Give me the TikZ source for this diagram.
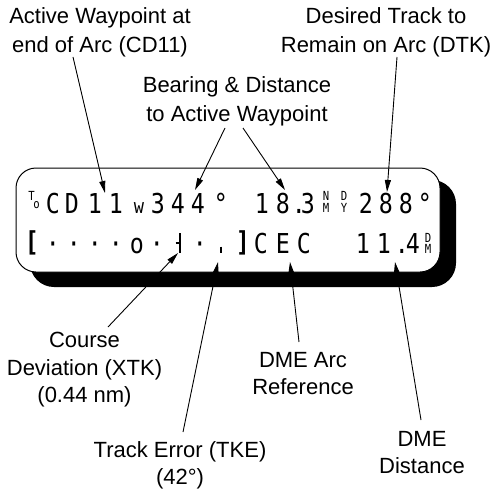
\documentclass[tikz,border=0pt]{standalone}
\usepackage{fontspec}
\setmainfont{Liberation Sans}
\newfontfamily\lcdfont[FakeStretch=0.85]{DejaVu Sans Mono}
\usetikzlibrary{arrows.meta}
\begin{document}
\begin{tikzpicture}[x=1pt,y=-1pt,
  lbltop/.style={align=center, anchor=north, inner sep=0pt, font=\fontsize{22}{29}\selectfont},
  lblbot/.style={align=center, anchor=north, inner sep=0pt, font=\fontsize{22}{27.5}\selectfont},
  lcd/.style={anchor=base, inner sep=0pt, font=\lcdfont\fontsize{27.4}{30}\selectfont},
  lcdw/.style={anchor=base, inner sep=0pt, font=\lcdfont\fontsize{20}{20}\selectfont},
  lcdbr/.style={anchor=base, inner sep=0pt, font=\lcdfont\bfseries\fontsize{27.4}{30}\selectfont},
  lcdsmall/.style={anchor=base, inner sep=0pt, font=\lcdfont\fontsize{12.5}{12}\selectfont},
  ptr/.style={line width=0.9pt, -{Triangle[length=12pt,width=6pt]}},
  mark1/.style={line width=1.5pt},
]
\useasboundingbox (0,0) rectangle (494,492);
% display
\fill[rounded corners=24pt] (30,180) rectangle (456,287);
\draw[fill=white, line width=1pt, rounded corners=20pt] (16,168) rectangle (440,272);
% row 1
\node[lcdsmall] (r1T) at (31.5,200.5) {T};
\node[lcdsmall] (r1o) at (36.5,208) {o};
\node[lcd] (r1a) at (53,213) {C};
\node[lcd] (r1b) at (72,213) {D};
\node[lcd] (r1c) at (95,213) {1};
\node[lcd] (r1d) at (116,213) {1};
\node[lcdw] (r1e) at (139,213) {w};
\node[lcd] (r1f) at (158,213) {3};
\node[lcd] (r1g) at (178,213) {4};
\node[lcd] (r1h) at (198,213) {4};
\node[lcd] (r1i) at (221,213) {°};
\node[lcd] (r1j) at (262,213) {1};
\node[lcd] (r1k) at (283,213) {8};
\node[lcd] (r1l) at (299,213) {.};
\node[lcd] (r1m) at (308,213) {3};
\node[lcdsmall] (r1n1) at (326,200.5) {N};
\node[lcdsmall] (r1n2) at (326,212.5) {M};
\node[lcdsmall] (r1o1) at (344,200.5) {D};
\node[lcdsmall] (r1o2) at (344,212.5) {Y};
\node[lcd] (r1p) at (366,213) {2};
\node[lcd] (r1q) at (386,213) {8};
\node[lcd] (r1r) at (406,213) {8};
\node[lcd] (r1s) at (425,213) {°};
% row 2
\node[lcdbr] (r2a) at (32,251) {[};
\node[lcd] (r2b) at (53,253) {·};
\node[lcd] (r2c) at (74,253) {·};
\node[lcd] (r2d) at (95,253) {·};
\node[lcd] (r2e) at (116,253) {·};
\node[lcd] (r2f) at (137,253) {o};
\node[lcd] (r2g) at (157,253) {·};
\draw[mark1] (180,233) -- (180,253);
\draw[line width=1.2pt] (175.5,243) -- (180,243);
\node[lcd] (r2h) at (200,253) {·};
\draw[line width=1.3pt] (221,246.5) -- (221,253);
\node[lcdbr] (r2i) at (243,251) {]};
\node[lcd] (r2j) at (261,253) {C};
\node[lcd] (r2k) at (283,253) {E};
\node[lcd] (r2l) at (304,253) {C};
\node[lcd] (r2m) at (363,253) {1};
\node[lcd] (r2n) at (384,253) {1};
\node[lcd] (r2o) at (402,253) {.};
\node[lcd] (r2p) at (413,253) {4};
\node[lcdsmall] (r2q1) at (428,242) {D};
\node[lcdsmall] (r2q2) at (428,253) {M};
% labels
\node[lbltop] (lAct) at (100,7.2) {Active Waypoint at\\end of Arc (CD11)};
\node[lbltop] (lDtk) at (386,7.2) {Desired Track to\\Remain on Arc (DTK)};
\node[lbltop] (lBrg) at (237,76) {Bearing \& Distance\\to Active Waypoint};
\node[lblbot] (lXtk) at (84.5,332) {Course\\Deviation (XTK)\\(0.44 nm)};
\node[lblbot] (lTke) at (180,441) {Track Error (TKE)\\(42°)};
\node[lblbot] (lArc) at (303,352) {DME Arc\\Reference};
\node[lblbot] (lDme) at (422,431) {DME\\Distance};
% connector ends
\coordinate (sAct) at (73,57);   \coordinate (tAct) at (105,193);
\coordinate (sBrgL) at (225,128); \coordinate (tBrgL) at (195,190);
\coordinate (sBrgR) at (243,128); \coordinate (tBrgR) at (285,190);
\coordinate (sDtk) at (397,57);  \coordinate (tDtk) at (387,192);
\coordinate (sXtk) at (108,327); \coordinate (tXtk) at (178,253);
\coordinate (sTke) at (183,432); \coordinate (tTke) at (218,262);
\coordinate (sArc) at (299,342); \coordinate (tArc) at (290,262);
\coordinate (sDme) at (421,420); \coordinate (tDme) at (395,262);
\draw[ptr] (sAct) -- (tAct);
\draw[ptr] (sBrgL) -- (tBrgL);
\draw[ptr] (sBrgR) -- (tBrgR);
\draw[ptr] (sDtk) -- (tDtk);
\draw[ptr] (sXtk) -- (tXtk);
\draw[ptr] (sTke) -- (tTke);
\draw[ptr] (sArc) -- (tArc);
\draw[ptr] (sDme) -- (tDme);
\end{tikzpicture}
\end{document}
